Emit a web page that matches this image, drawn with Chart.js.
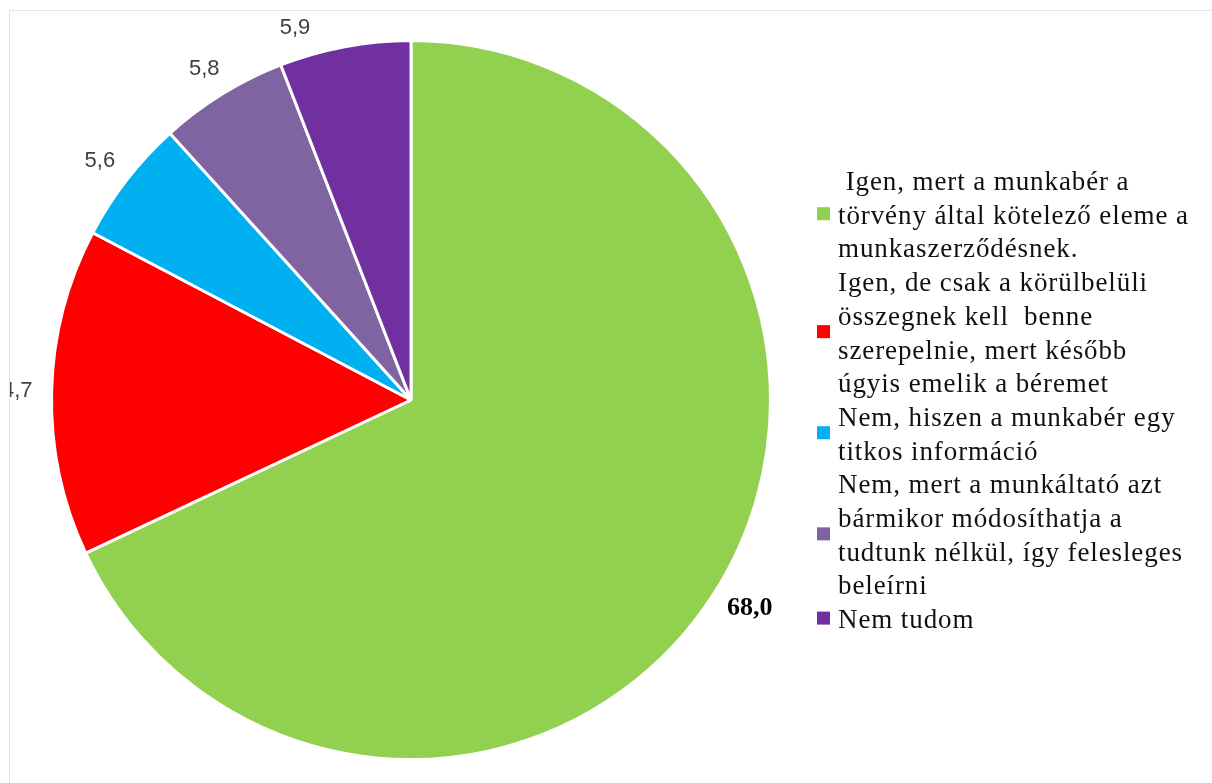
<!DOCTYPE html>
<html>
<head>
<meta charset="utf-8">
<script src="https://cdn.jsdelivr.net/npm/chart.js@4/dist/chart.umd.min.js"></script>
<style>
  html, body { margin: 0; padding: 0; background: #fff; }
  #wrap { width: 1212px; height: 783px; position: relative; }
</style>
</head>
<body>
<div id="wrap"><canvas id="chart"></canvas></div>
<script>
// answers (legend lines) and shares in %
const categories = [
  [' Igen, mert a munkabér a', 'törvény által kötelező eleme a', 'munkaszerződésnek.'],
  ['Igen, de csak a körülbelüli', 'összegnek kell  benne', 'szerepelnie, mert később', 'úgyis emelik a béremet'],
  ['Nem, hiszen a munkabér egy', 'titkos információ'],
  ['Nem, mert a munkáltató azt', 'bármikor módosíthatja a', 'tudtunk nélkül, így felesleges', 'beleírni'],
  ['Nem tudom']
];
const values = [68.0, 14.7, 5.6, 5.8, 5.9];
const valueLabels = ['68,0', '14,7', '5,6', '5,8', '5,9'];
const colors = ['#92D050', '#FF0000', '#00B0F0', '#8064A2', '#7030A0'];

// thin grey frame of the original picture
const framePlugin = {
    id: 'frame',
    beforeDraw(chart) {
        const ctx = chart.ctx;
        ctx.save();
        ctx.strokeStyle = '#e3e3e3';
        ctx.lineWidth = 1;
        ctx.beginPath();
        ctx.moveTo(9.5, chart.height);
        ctx.lineTo(9.5, 10.5);
        ctx.lineTo(chart.width, 10.5);
        ctx.stroke();
        ctx.restore();
    }
};

// value labels outside the slices
const labelPlugin = {
    id: 'valueLabels',
    afterDatasetsDraw(chart) {
        const ctx = chart.ctx;
        const arcs = chart.getDatasetMeta(0).data;
        ctx.save();
        ctx.beginPath();
        ctx.rect(10, 11, chart.width, chart.height);
        ctx.clip();
        arcs.forEach((arc, i) => {
            const bold = i === 0;
            ctx.font = bold ? 'bold 26px "Liberation Serif"' : '22px "Liberation Sans"';
            ctx.fillStyle = bold ? '#000' : '#404040';
            ctx.textAlign = 'center';
            ctx.textBaseline = 'middle';
            const w = ctx.measureText(valueLabels[i]).width;
            const h = 22;
            const mid = (arc.startAngle + arc.endAngle) / 2;
            const s = Math.cos(mid), c = Math.sin(mid);
            const d = arc.outerRadius + 19;
            let x = arc.x + d * s + (w / 2) * s;
            let y = arc.y + d * c + (h / 2) * c;
            // keep labels inside the top of the picture
            const minY = 28;
            if (y < minY) {
                const rr = Math.hypot(x - arc.x, y - arc.y);
                y = minY;
                x = arc.x + Math.sign(s) * Math.sqrt(rr * rr - (arc.y - y) * (arc.y - y));
            }
            ctx.fillText(valueLabels[i], x, y);
        });
        ctx.restore();
    }
};

// legend on the right with wrapped lines
const legendPlugin = {
    id: 'sideLegend',
    afterDraw(chart) {
        const ctx = chart.ctx;
        const lineH = 33.7;
        let baseY = 190;
        ctx.save();
        ctx.font = '27px "Liberation Serif"';
        ctx.letterSpacing = '0.9px';
        ctx.fillStyle = '#111';
        ctx.textAlign = 'left';
        ctx.textBaseline = 'alphabetic';
        categories.forEach((lines, i) => {
            const first = baseY;
            lines.forEach((t, j) => {
                ctx.fillText(t, 838, baseY + j * lineH);
            });
            const meanBase = first + (lines.length - 1) * lineH / 2;
            ctx.fillStyle = colors[i];
            ctx.fillRect(817, meanBase - 10 - 6.5, 13, 13);
            ctx.fillStyle = '#111';
            baseY += lines.length * lineH;
        });
        ctx.restore();
    }
};

new Chart(document.getElementById('chart').getContext('2d'), {
    type: 'pie',
    data: {
        labels: categories.map(l => l.join(' ').trim()),
        datasets: [{
            data: values,
            backgroundColor: colors,
            borderColor: '#ffffff',
            borderWidth: 3
        }]
    },
    options: {
        responsive: true,
        maintainAspectRatio: false,
        animation: false,
        layout: {
            padding: { left: 50, top: 39, right: 440, bottom: 22 }
        },
        plugins: {
            legend: { display: false },
            tooltip: { enabled: false }
        }
    },
    plugins: [framePlugin, labelPlugin, legendPlugin]
});
</script>
</body>
</html>
